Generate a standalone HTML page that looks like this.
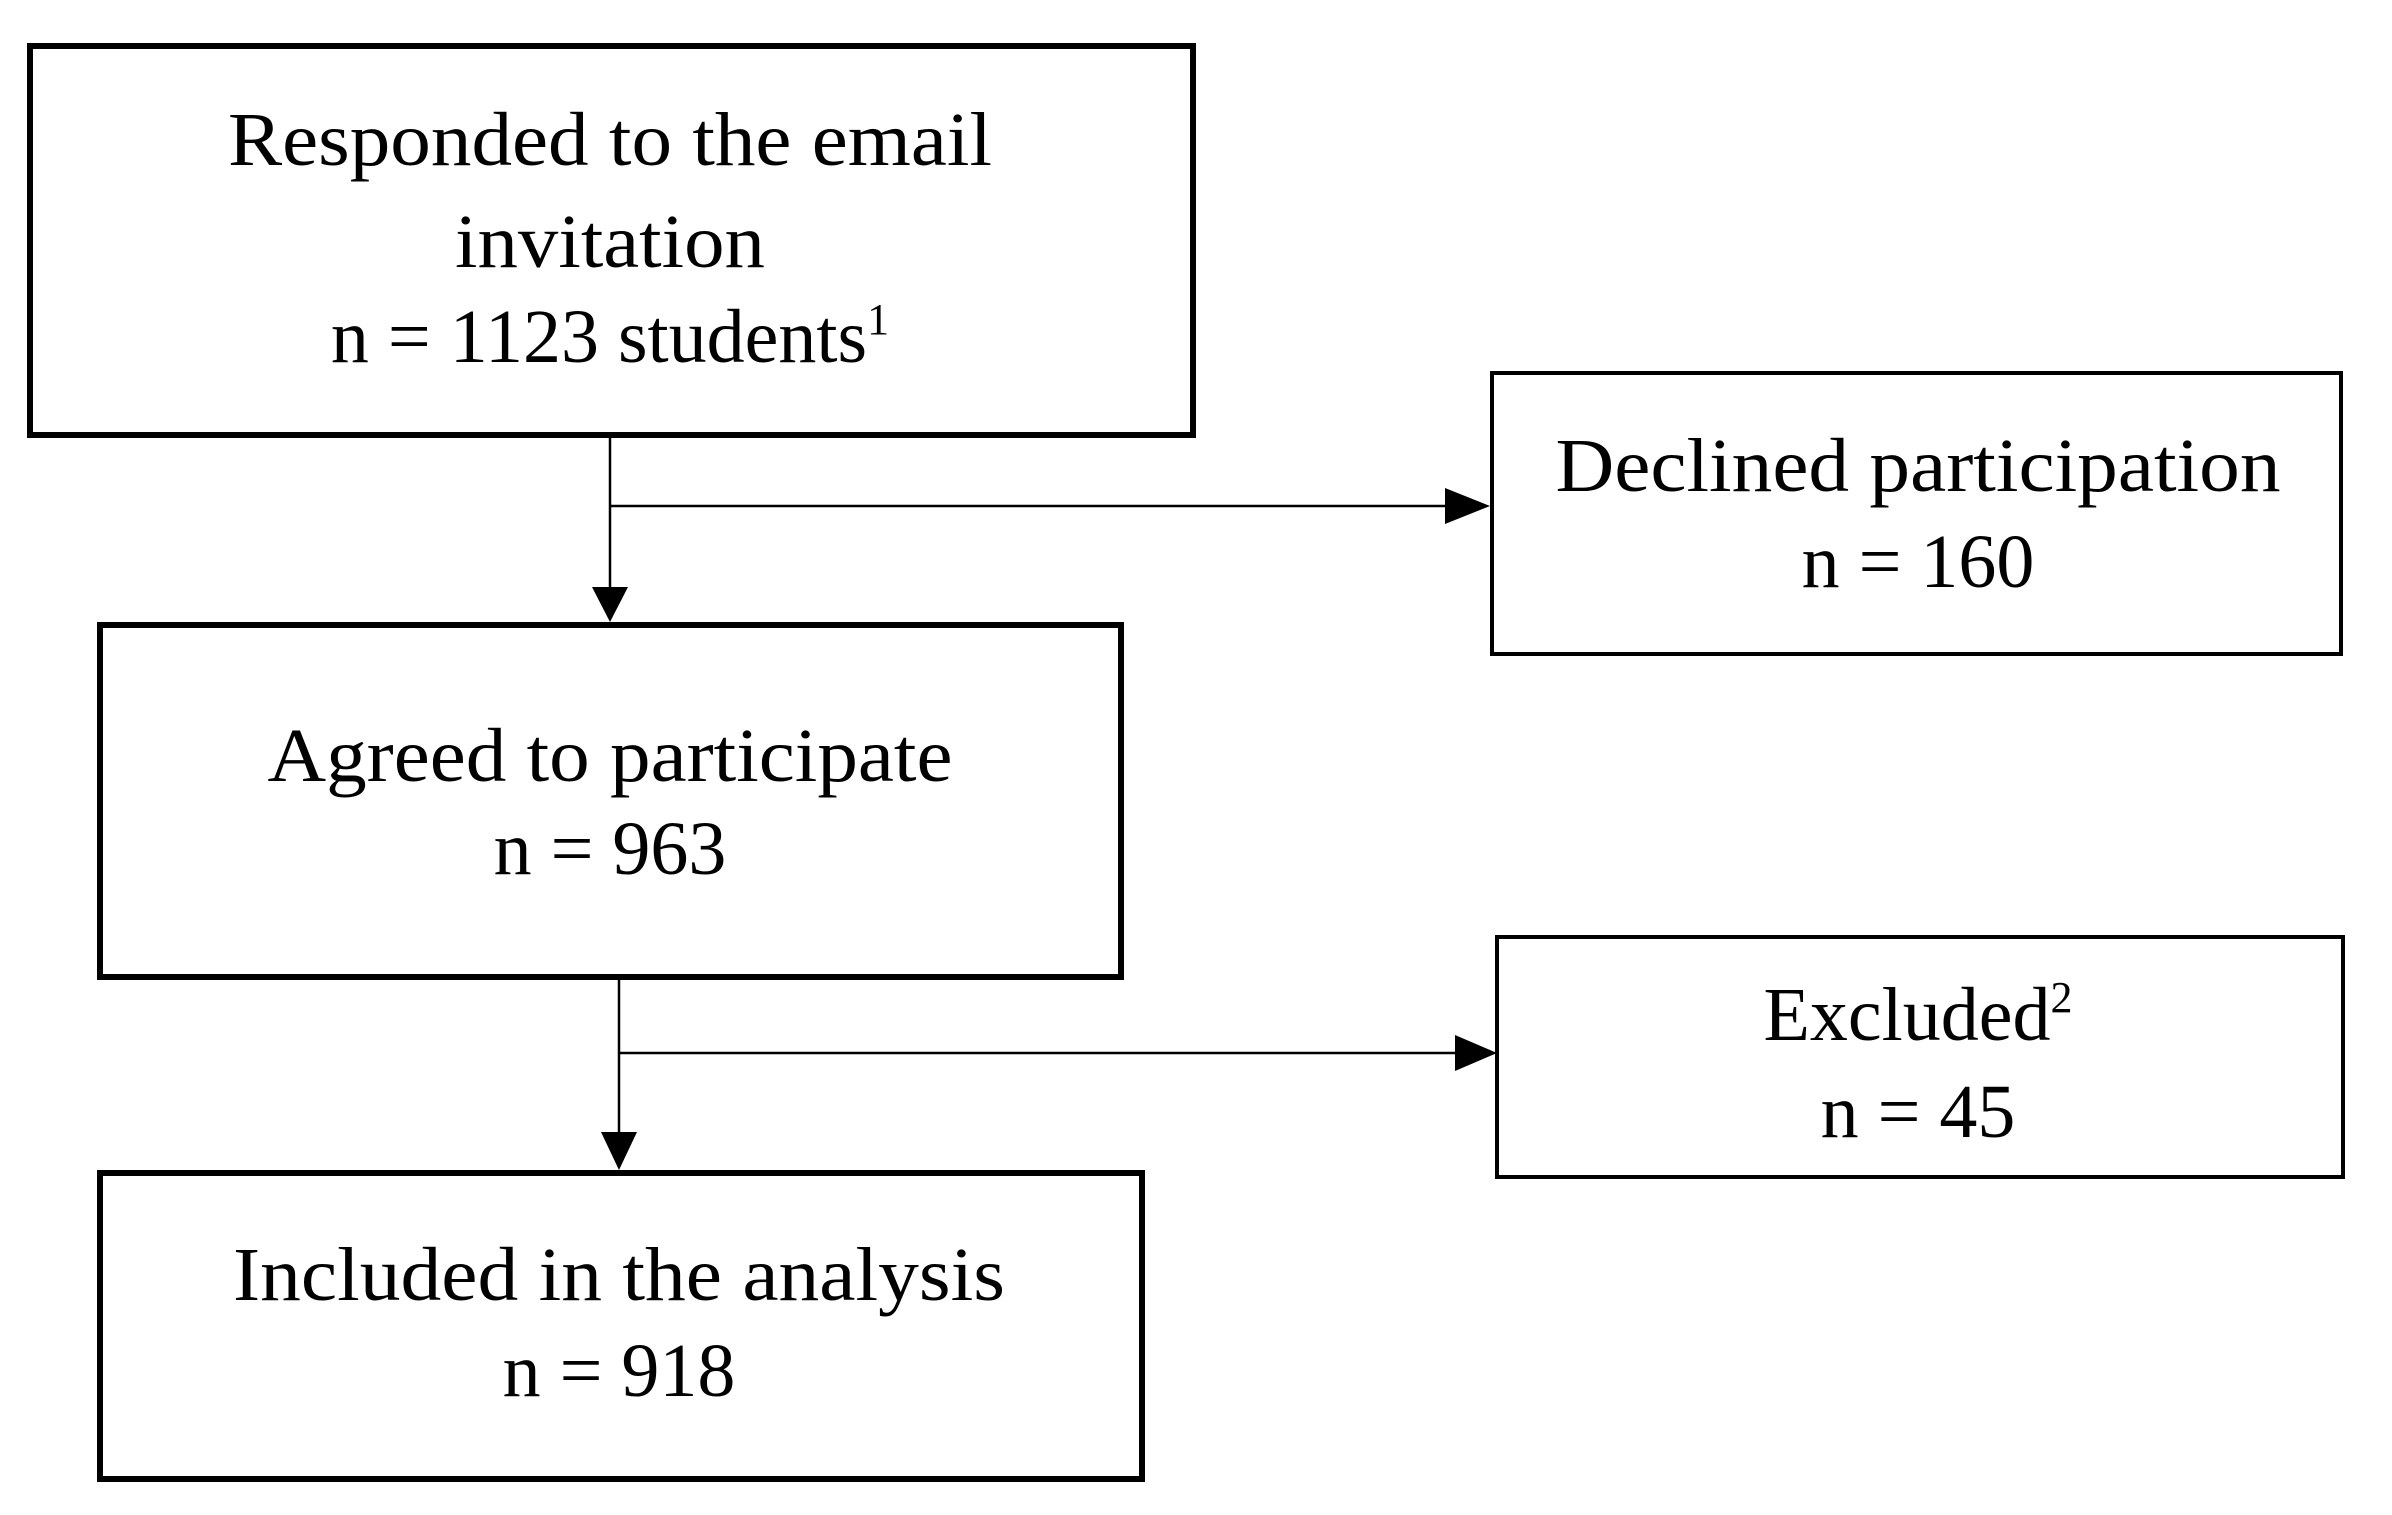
<!DOCTYPE html>
<html><head><meta charset="utf-8"><style>html,body{margin:0;padding:0;background:#fff}svg{display:block}</style></head>
<body>
<svg width="2392" height="1515" viewBox="0 0 2392 1515" xmlns="http://www.w3.org/2000/svg" font-family="Liberation Serif, serif" font-size="76" fill="#000" text-anchor="middle">
<rect width="2392" height="1515" fill="#fff"/>
<g fill="none" stroke="#000">
<rect x="30" y="46" width="1163" height="389" stroke-width="6"/>
<rect x="1492" y="373" width="849" height="281" stroke-width="4"/>
<rect x="100" y="625" width="1021" height="352" stroke-width="6"/>
<rect x="1497" y="937" width="846" height="240" stroke-width="4"/>
<rect x="100" y="1173" width="1042" height="306" stroke-width="6"/>
<path d="M610 438 V590 M610 506 H1450 M619 979 V1132 M619 1053 H1460" stroke-width="2.5"/>
</g>
<path d="M592 587 L628 587 L610 622 Z"/>
<path d="M1445 488 L1490 506 L1445 524 Z"/>
<path d="M601 1132 L637 1132 L619 1170 Z"/>
<path d="M1455 1035 L1497 1053 L1455 1071 Z"/>
<text x="610" y="165" textLength="764" lengthAdjust="spacingAndGlyphs">Responded to the email</text>
<text x="610" y="267" textLength="310" lengthAdjust="spacingAndGlyphs">invitation</text>
<text x="610" y="362">n = 1123 students<tspan font-size="44" dy="-28">1</tspan></text>
<text x="1918" y="491" textLength="725" lengthAdjust="spacingAndGlyphs">Declined participation</text>
<text x="1918" y="587">n = 160</text>
<text x="610" y="781" textLength="685" lengthAdjust="spacingAndGlyphs">Agreed to participate</text>
<text x="610" y="874">n = 963</text>
<text x="1918" y="1040">Excluded<tspan font-size="44" dy="-28">2</tspan></text>
<text x="1918" y="1137">n = 45</text>
<text x="619" y="1300" textLength="772" lengthAdjust="spacingAndGlyphs">Included in the analysis</text>
<text x="619" y="1396">n = 918</text>
</svg>
</body></html>
